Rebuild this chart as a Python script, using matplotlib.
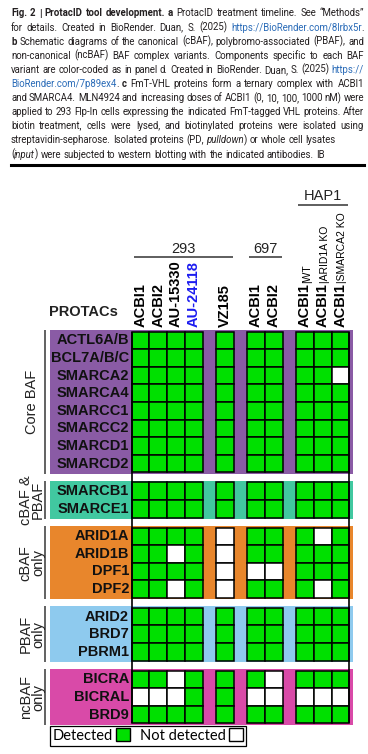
import numpy as np
import matplotlib
matplotlib.use("Agg")
from matplotlib import pyplot as plt
from matplotlib import font_manager
from matplotlib.patches import Rectangle, Patch

# ---- data ----
protacs = ["ACBI1", "ACBI2", "AU-15330", "AU-24118", "VZ185", "ACBI1", "ACBI2", "ACBI1", "ACBI1", "ACBI1"]
protac_notes = ["", "", "", "", "", "", "", "WT", "ARID1A KO", "SMARCA2 KO"]
cell_lines = ["293", "293", "293", "293", "293", "697", "697", "HAP1", "HAP1", "HAP1"]
col_block = [0, 0, 0, 0, 1, 2, 2, 3, 3, 3]
highlight = "AU-24118"

group_names = ["Core BAF", "cBAF &\nPBAF", "cBAF\nonly", "PBAF\nonly", "ncBAF\nonly"]
group_colors = ["#8a5ba5", "#41c8a0", "#e8862c", "#8ecaee", "#d94aa8"]
core_baf = ["ACTL6A/B", "BCL7A/B/C", "SMARCA2", "SMARCA4", "SMARCC1", "SMARCC2", "SMARCD1", "SMARCD2"]
cbaf_pbaf = ["SMARCB1", "SMARCE1"]
cbaf_only = ["ARID1A", "ARID1B", "DPF1", "DPF2"]
pbaf_only = ["ARID2", "BRD7", "PBRM1"]
ncbaf_only = ["BICRA", "BICRAL", "BRD9"]
group_rows = [core_baf, cbaf_pbaf, cbaf_only, pbaf_only, ncbaf_only]

# 1 = detected, 0 = not detected (columns in protacs order)
det_core = [[1] * 10, [1] * 10, [1, 1, 1, 1, 1, 1, 1, 1, 1, 0],
            [1] * 10, [1] * 10, [1] * 10, [1] * 10, [1] * 10]
det_cbaf_pbaf = [[1] * 10, [1] * 10]
det_cbaf = [[1, 1, 1, 1, 0, 1, 1, 1, 0, 1],
            [1, 1, 0, 1, 0, 1, 1, 1, 1, 1],
            [1, 1, 1, 1, 0, 0, 0, 1, 1, 1],
            [1, 1, 0, 1, 0, 1, 1, 1, 0, 1]]
det_pbaf = [[1] * 10, [1] * 10, [1] * 10]
det_ncbaf = [[1, 1, 0, 1, 1, 1, 0, 1, 1, 1],
             [0, 0, 0, 1, 1, 0, 0, 0, 0, 0],
             [1] * 10]
group_det = [det_core, det_cbaf_pbaf, det_cbaf, det_pbaf, det_ncbaf]

caption = [
    [("Fig. 2 | ProtacID tool development.", "b"), (" ", "n"), ("a", "b"),
     (" ProtacID treatment timeline. See \u201cMethods\u201d", "n")],
    [("for details. Created in BioRender. Duan, S. (2025) ", "n"),
     ("https://BioRender.com/8lrbx5r", "l"), (".", "n")],
    [("b", "b"), (" Schematic diagrams of the canonical (cBAF), polybromo-associated (PBAF), and", "n")],
    [("non-canonical (ncBAF) BAF complex variants. Components specific to each BAF", "n")],
    [("variant are color-coded as in panel d. Created in BioRender. Duan, S. (2025) ", "n"),
     ("https://", "l")],
    [("BioRender.com/7p89ex4", "l"), (". ", "n"), ("c", "b"),
     (" FmT-VHL proteins form a ternary complex with ACBI1", "n")],
    [("and SMARCA4. MLN4924 and increasing doses of ACBI1 (0, 10, 100, 1000 nM) were", "n")],
    [("applied to 293 Flp-In cells expressing the indicated FmT-tagged VHL proteins. After", "n")],
    [("biotin treatment, cells were lysed, and biotinylated proteins were isolated using", "n")],
    [("streptavidin-sepharose. Isolated proteins (PD, ", "n"), ("pulldown", "i"),
     (") or whole cell lysates", "n")],
    [("(", "n"), ("input", "i"), (") were subjected to western blotting with the indicated antibodies. IB", "n")],
]
justified = [True] * 9 + [False, False]

GREEN = "#00e000"
BLUE = "#1c1cf0"
LINK = "#2b6cb8"

# ---- fonts ----
installed = {f.name for f in font_manager.fontManager.ttflist}
ARIAL = "Liberation Sans"
HAS_NARROW = "Liberation Sans Narrow" in installed
NARROW = "Liberation Sans Narrow" if HAS_NARROW else ARIAL
LEGF = "Lato" if "Lato" in installed else "DejaVu Sans"

W, H = 368, 754
fig = plt.figure(figsize=(W / 100, H / 100), dpi=100)
renderer = fig.canvas.get_renderer()

# axes in cell units: one unit = one cell
PX, PY = 17.76, 17.58
X0, Y0 = 131.7, 331.7
ax = fig.add_axes([0, 0, 1, 1])
ax.set_xlim(-X0 / PX, (W - X0) / PX)
ax.set_ylim((H - Y0) / PY, -Y0 / PY)
ax.axis("off")


def px_x(p):
    return (p - X0) / PX


def px_y(p):
    return (p - Y0) / PY


GAP_X, GAP_Y, PAD = 0.75, 0.57, 0.08
col_x = np.arange(len(protacs)) + GAP_X * np.array(col_block)
grid_right = col_x[-1] + 1

tops = []
y = 0.0
for rows in group_rows:
    tops.append(y)
    y += len(rows) + GAP_Y
grid_bottom = tops[-1] + len(group_rows[-1])

band_l, band_r = px_x(50), px_x(353)
for name, color, rows, det, top in zip(group_names, group_colors, group_rows, group_det, tops):
    n = len(rows)
    ax.add_patch(Rectangle((band_l, top - PAD), band_r - band_l, n + 2 * PAD,
                           facecolor=color, edgecolor="none", zorder=1))
    ax.vlines(px_x(44.5), top - PAD, top + n + PAD, color="#555555", lw=1.3)
    ax.text(px_x(32), top + n / 2, name, rotation=90, ha="center", va="center",
            fontsize=10.5, family=ARIAL, linespacing=0.85, color="#222222")
    for i, row in enumerate(rows):
        ax.text(-0.15, top + i + 0.5, row, ha="right", va="center", fontsize=10.5,
                fontweight="bold", family=ARIAL, color="#111111", zorder=3)
        for j in range(len(protacs)):
            fc = GREEN if det[i][j] else "white"
            ax.add_patch(Rectangle((col_x[j], top + i), 1, 1, facecolor=fc,
                                   edgecolor="black", lw=1.1, zorder=2))

ax.vlines([0, grid_right], 0, grid_bottom, color="black", lw=1.2, zorder=3)

# column labels
col_size = 12.5 if HAS_NARROW else 10.5
for j, (lab, note) in enumerate(zip(protacs, protac_notes)):
    t = ax.text(col_x[j] + 0.5, px_y(327), lab, rotation=90, ha="center", va="bottom",
                fontsize=col_size, fontweight="bold", family=NARROW,
                color=BLUE if lab == highlight else "black")
    if note:
        ax.annotate("|" + note, xy=(1, 1), xycoords=t, rotation=90, ha="right",
                    va="bottom", fontsize=8.5 if HAS_NARROW else 7.5, family=NARROW)

# cell line headers
head_y = {"293": px_y(257.5), "697": px_y(257.5), "HAP1": px_y(205)}
for cl in dict.fromkeys(cell_lines):
    idx = [k for k, c in enumerate(cell_lines) if c == cl]
    x1, x2 = col_x[idx[0]] + 0.12, col_x[idx[-1]] + 0.95
    ax.hlines(head_y[cl], x1, x2, color="#333333", lw=1.1)
    ax.text((x1 + x2) / 2, head_y[cl] - 0.1, cl, ha="center", va="bottom",
            fontsize=10.5, family=ARIAL, color="#222222")

ax.text(px_x(49), px_y(316), "PROTACs", ha="left", va="baseline", fontsize=10.5,
        fontweight="bold", family=ARIAL, color="#222222")

# legend
handles = [Patch(facecolor=GREEN, edgecolor="black", lw=1.0),
           Patch(facecolor="white", edgecolor="black", lw=1.0)]
leg = fig.legend(handles, ["Detected", "Not detected"], loc="upper left",
                 bbox_to_anchor=(50 / W, 1 - 725.5 / H), ncol=2, markerfirst=False,
                 fancybox=False, edgecolor="black", framealpha=1, borderaxespad=0,
                 handlelength=0.95, handleheight=0.95, handletextpad=0.2,
                 columnspacing=0.7, borderpad=0.2,
                 prop={"family": LEGF, "size": 10.5})
leg.get_frame().set_linewidth(0.9)

# caption, justified word by word
CAP_L, CAP_R = 11.0, 364.0


def cap_kw(s, size, fam):
    kw = dict(fontsize=size, family=fam, color="#231f20", ha="left", va="baseline")
    if s == "b":
        kw["fontweight"] = "bold"
    if s == "i":
        kw["fontstyle"] = "italic"
    if s == "l":
        kw["color"] = LINK
    return kw


def split_words(segs):
    words = [[]]
    for txt, s in segs:
        for k, p in enumerate(txt.split(" ")):
            if k > 0:
                words.append([])
            if p:
                words[-1].append((p, s))
    return [w for w in words if w]


def piece_width(p, s, size, fam):
    t = fig.text(0, 0, p, **cap_kw(s, size, fam))
    wd = t.get_window_extent(renderer).width
    t.remove()
    return wd


line_words = [split_words(segs) for segs in caption]
base = 8.0


def fit_scale(fam):
    sp = piece_width("a a", "n", base, fam) - piece_width("aa", "n", base, fam)
    worst = 0
    for words in line_words:
        ws = [sum(piece_width(p, s, base, fam) for p, s in w) for w in words]
        worst = max(worst, sum(ws) + 0.8 * sp * (len(ws) - 1))
    return (CAP_R - CAP_L) / worst, sp


# pick the narrowest of the installed text faces
candidates = [f for f in ["Lato", "Roboto", "Liberation Sans", "Noto Sans"] if f in installed]
fits = {f: fit_scale(f) for f in candidates}
CAPF = max(fits, key=lambda f: fits[f][0])
scale, space = fits[CAPF]
size = base * scale
space *= scale

for i, (words, just) in enumerate(zip(line_words, justified)):
    yb = 1 - (16.5 + 14.1 * i) / H
    widths = [[piece_width(p, s, size, CAPF) for p, s in w] for w in words]
    total = sum(sum(w) for w in widths)
    gap = (CAP_R - CAP_L - total) / (len(words) - 1) if just else space
    x = CAP_L
    for w, wl in zip(words, widths):
        for (p, s), pw in zip(w, wl):
            fig.text(x / W, yb, p, **cap_kw(s, size, CAPF))
            x += pw
        x += gap

fig.add_artist(plt.Line2D([CAP_L / W, CAP_R / W], [1 - 165 / H] * 2, color="black", lw=2.2))

fig.savefig("out.png", dpi=100)
